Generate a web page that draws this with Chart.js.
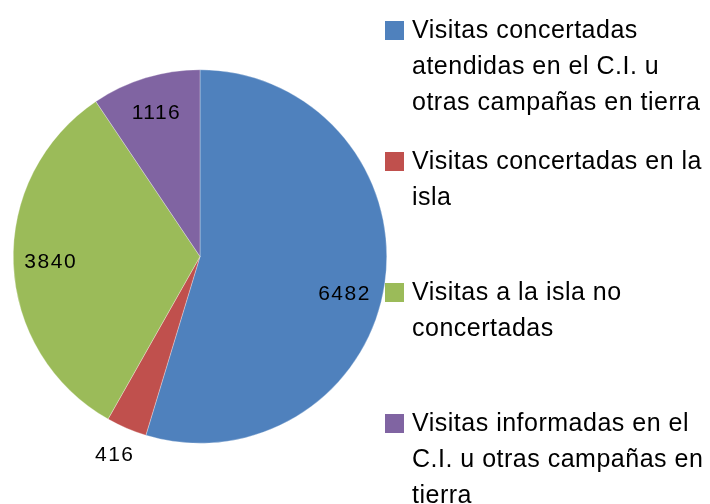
<!DOCTYPE html>
<html>
<head>
<meta charset="utf-8">
<script src="https://cdn.jsdelivr.net/npm/chart.js@4/dist/chart.umd.min.js"></script>
<style>
  html, body { margin: 0; padding: 0; background: #fff; }
  #wrap { width: 710px; height: 504px; position: relative; }
</style>
</head>
<body>
<div id="wrap"><canvas id="chart" width="710" height="504"></canvas></div>
<script>
// categorias (texto de la leyenda ya partido en lineas)
const categories = [
    ["Visitas concertadas", "atendidas en el C.I. u", "otras campañas en tierra"],
    ["Visitas concertadas en la", "isla"],
    ["Visitas a la isla no", "concertadas"],
    ["Visitas informadas en el", "C.I. u otras campañas en", "tierra"]
];
const visitas = [6482, 416, 3840, 1116];
const colores = ['#4F81BD', '#C0504D', '#9BBB59', '#8064A2'];
// pequeño giro de la etiqueta respecto al centro del sector (radianes)
const labelTurn = [0.11, 0, 0, 0];

// etiquetas con el valor de cada sector
const valueLabels = {
    id: 'valueLabels',
    afterDatasetsDraw(chart) {
        const ctx = chart.ctx;
        const meta = chart.getDatasetMeta(0);
        ctx.save();
        ctx.font = '21px "Liberation Sans", Arial, sans-serif';
        ctx.letterSpacing = '1.5px';
        ctx.fillStyle = '#000';
        ctx.textAlign = 'center';
        ctx.textBaseline = 'middle';
        meta.data.forEach((arc, i) => {
            const mid = (arc.startAngle + arc.endAngle) / 2 + labelTurn[i];
            const frac = (arc.endAngle - arc.startAngle) / (2 * Math.PI);
            // los sectores muy pequeños llevan la etiqueta fuera
            const r = frac < 0.05 ? arc.outerRadius * 1.16 : arc.outerRadius * 0.8;
            const x = arc.x + Math.cos(mid) * r;
            const y = arc.y + Math.sin(mid) * r;
            ctx.fillText(String(chart.data.datasets[0].data[i]), x, y);
        });
        ctx.restore();
    }
};

// leyenda a la derecha con texto en varias lineas
const sideLegend = {
    id: 'sideLegend',
    afterDraw(chart) {
        const ctx = chart.ctx;
        ctx.save();
        ctx.font = '25px "Liberation Sans", Arial, sans-serif';
        ctx.letterSpacing = '0.5px';
        ctx.textBaseline = 'alphabetic';
        ctx.textAlign = 'left';
        chart.data.labels.forEach((lines, i) => {
            const top = 21 + i * 131;
            ctx.fillStyle = chart.data.datasets[0].backgroundColor[i];
            ctx.fillRect(385, top, 19, 19);
            ctx.fillStyle = '#000';
            lines.forEach((line, j) => {
                ctx.fillText(line, 412, top + 17 + j * 36);
            });
        });
        ctx.restore();
    }
};

new Chart(document.getElementById('chart'), {
    type: 'pie',
    data: {
        labels: categories,
        datasets: [{
            data: visitas,
            backgroundColor: colores,
            borderColor: 'rgba(255,255,255,0.6)',
            borderWidth: 0.5
        }]
    },
    options: {
        responsive: false,
        animation: false,
        events: [],
        layout: {
            padding: { left: 13, right: 323, top: 69, bottom: 60 }
        },
        plugins: {
            legend: { display: false },
            tooltip: { enabled: false }
        }
    },
    plugins: [valueLabels, sideLegend]
});
</script>
</body>
</html>
